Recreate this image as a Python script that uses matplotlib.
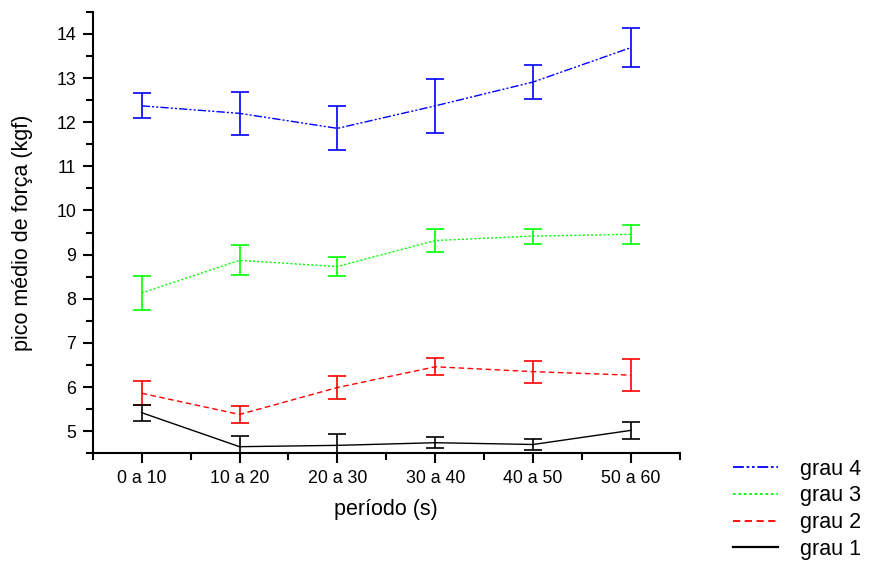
import matplotlib
matplotlib.use("Agg")
import matplotlib.pyplot as plt
from matplotlib.ticker import MultipleLocator, FixedLocator
from matplotlib.lines import Line2D

plt.rcParams['font.family'] = ['Liberation Sans', 'DejaVu Sans']

periodos = ["0 a 10", "10 a 20", "20 a 30", "30 a 40", "40 a 50", "50 a 60"]

grau4 = [12.37, 12.20, 11.86, 12.37, 12.91, 13.69]
grau4_err = [0.28, 0.49, 0.50, 0.61, 0.38, 0.45]

grau3 = [8.13, 8.87, 8.73, 9.32, 9.42, 9.46]
grau3_err = [0.38, 0.34, 0.21, 0.27, 0.17, 0.22]

grau2 = [5.86, 5.38, 5.99, 6.46, 6.35, 6.27]
grau2_err = [0.27, 0.20, 0.26, 0.19, 0.25, 0.37]

grau1 = [5.42, 4.65, 4.68, 4.74, 4.70, 5.02]
grau1_err = [0.18, 0.25, 0.25, 0.13, 0.13, 0.19]

series = [
    ("grau 4", grau4, grau4_err, "#0000ff", (0, (6, 1.5, 1.5, 1.5, 1.5, 1.5))),
    ("grau 3", grau3, grau3_err, "#00ff00", (0, (1.5, 1.5))),
    ("grau 2", grau2, grau2_err, "#ff0000", (0, (4, 2.5))),
    ("grau 1", grau1, grau1_err, "#000000", "-"),
]

fig = plt.figure(figsize=(8.69, 5.62), dpi=100)
ax = fig.add_axes([0.1067, 0.1934, 0.6758, 0.7856])

x = list(range(len(periodos)))
handles = []
for label, vals, errs, color, ls in series:
    ax.errorbar(x, vals, yerr=errs, color=color, linestyle=ls, linewidth=1.0,
                elinewidth=1.2, capsize=6.5, capthick=1.2)
    handles.append(Line2D([], [], color=color, linestyle=ls,
                          linewidth=1.6 if ls == "-" else 1.3))

ax.set_xlim(-0.5, 5.5)
ax.set_ylim(4.5, 14.5)
ax.set_xticks(x)
ax.set_xticklabels(periodos)
ax.xaxis.set_minor_locator(FixedLocator([i + 0.5 for i in range(-1, 6)]))
ax.yaxis.set_minor_locator(MultipleLocator(0.5))
ax.set_yticks(range(5, 15))

for side in ("top", "right"):
    ax.spines[side].set_visible(False)
for side in ("left", "bottom"):
    ax.spines[side].set_linewidth(1.5)

ax.tick_params(which="major", direction="out", length=7, width=1.5,
               labelsize=12.8, pad=5)
ax.tick_params(which="minor", direction="out", length=5, width=1.5)

ax.set_xlabel("período (s)", fontsize=15.5)
ax.set_ylabel("pico médio de força (kgf)", fontsize=15.5)
ax.xaxis.set_label_coords(0.5, -0.104)
ax.yaxis.set_label_coords(-0.102, 0.5)

fig.legend(handles, [s[0] for s in series], loc="upper left",
           bbox_to_anchor=(0.8435, 0.184), frameon=False, fontsize=15.5,
           handlelength=2.1, handletextpad=1.0, labelspacing=0.27,
           borderaxespad=0, borderpad=0)

fig.savefig("out.png", dpi=100)
